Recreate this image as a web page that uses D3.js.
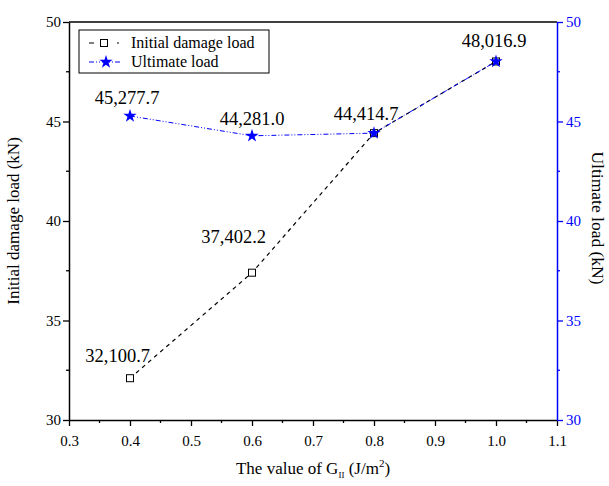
<!DOCTYPE html>
<html>
<head>
<meta charset="utf-8">
<script src="https://cdn.jsdelivr.net/npm/d3@7"></script>
<style>
  body { margin: 0; background: #fff; }
  svg text { font-family: 'Liberation Serif', 'Times New Roman', serif; }
</style>
</head>
<body>
<div id="chart"></div>
<script>
// values (kN)
const gValues = [0.4, 0.6, 0.8, 1.0];
const initialLoad = [32.1007, 37.4022, 44.4147, 48.0169];
const ultimateLoad = [45.2777, 44.2810, 44.4147, 48.0169];
const initialLabels = ["32,100.7", "37,402.2", "", ""];
const ultimateLabels = ["45,277.7", "44,281.0", "44,414.7", "48,016.9"];
const xTicks = [0.3, 0.4, 0.5, 0.6, 0.7, 0.8, 0.9, 1.0, 1.1];
const yTicks = [30, 35, 40, 45, 50];

const W = 609, H = 486;
const margin = { top: 22, right: 52, bottom: 66, left: 69 };
const width = W - margin.left - margin.right,
      height = H - margin.top - margin.bottom;

const svg = d3.select("#chart").append("svg")
    .attr("width", W)
    .attr("height", H);

const g = svg.append("g").attr("transform", `translate(${margin.left},${margin.top})`);

const x = d3.scaleLinear().domain([0.3, 1.1]).range([0, width]);
const yL = d3.scaleLinear().domain([30, 50]).range([height, 0]);
const yR = d3.scaleLinear().domain([30, 50]).range([height, 0]);

// top frame line
g.append("line")
    .attr("x1", 0).attr("x2", width)
    .attr("y1", 0).attr("y2", 0)
    .attr("stroke", "#000").attr("stroke-width", 1.5);

// minor ticks
const xMinor = [0.35, 0.45, 0.55, 0.65, 0.75, 0.85, 0.95, 1.05];
const yMinor = [32.5, 37.5, 42.5, 47.5];

g.selectAll(".xminor").data(xMinor).join("line")
    .attr("x1", d => x(d)).attr("x2", d => x(d))
    .attr("y1", height).attr("y2", height + 3)
    .attr("stroke", "#000").attr("stroke-width", 1.3);
g.selectAll(".ylminor").data(yMinor).join("line")
    .attr("x1", 0).attr("x2", -3)
    .attr("y1", d => yL(d)).attr("y2", d => yL(d))
    .attr("stroke", "#000").attr("stroke-width", 1.3);
g.selectAll(".yrminor").data(yMinor).join("line")
    .attr("x1", width).attr("x2", width + 3)
    .attr("y1", d => yR(d)).attr("y2", d => yR(d))
    .attr("stroke", "#0000ff").attr("stroke-width", 1.3);

// axes
const xAxis = g.append("g")
    .attr("transform", `translate(0,${height})`)
    .call(d3.axisBottom(x).tickValues(xTicks).tickFormat(d3.format(".1f")).tickSize(6).tickSizeOuter(0));
const leftAxis = g.append("g")
    .call(d3.axisLeft(yL).tickValues(yTicks).tickSize(6).tickSizeOuter(0));
const rightAxis = g.append("g")
    .attr("transform", `translate(${width},0)`)
    .call(d3.axisRight(yR).tickValues(yTicks).tickSize(6).tickSizeOuter(0));

[xAxis, leftAxis, rightAxis].forEach(a => {
    a.attr("font-family", "Liberation Serif").attr("font-size", 15);
});
[xAxis, leftAxis].forEach(a => {
    a.select(".domain").attr("stroke", "#000").attr("stroke-width", 1.5);
    a.selectAll(".tick line").attr("stroke", "#000").attr("stroke-width", 1.3);
    a.selectAll(".tick text").attr("fill", "#000");
});
xAxis.selectAll(".tick text").attr("dy", "1.1em");
leftAxis.selectAll(".tick text").attr("x", -8);

rightAxis.select(".domain").attr("stroke", "#0000ff").attr("stroke-width", 1.5);
rightAxis.selectAll(".tick line").attr("stroke", "#0000ff").attr("stroke-width", 1.3);
rightAxis.selectAll(".tick text").attr("fill", "#0000ff").attr("x", 9);

// lines
const lineInit = d3.line().x((d, i) => x(gValues[i])).y(d => yL(d));
const lineUlt = d3.line().x((d, i) => x(gValues[i])).y(d => yR(d));

g.append("path")
    .datum(initialLoad)
    .attr("fill", "none")
    .attr("stroke", "#000")
    .attr("stroke-width", 1.2)
    .attr("stroke-dasharray", "4,4")
    .attr("d", lineInit);

g.append("path")
    .datum(ultimateLoad)
    .attr("fill", "none")
    .attr("stroke", "#0000ff")
    .attr("stroke-width", 1)
    .attr("stroke-dasharray", "5,2,1,2,1,2")
    .attr("d", lineUlt);

// markers
const star = d3.symbol().type(d3.symbolStar).size(55);

g.selectAll(".sq").data(initialLoad).join("rect")
    .attr("x", (d, i) => x(gValues[i]) - 3.5)
    .attr("y", d => yL(d) - 3.5)
    .attr("width", 7).attr("height", 7)
    .attr("fill", "#fff").attr("stroke", "#000").attr("stroke-width", 1);

g.selectAll(".star").data(ultimateLoad).join("path")
    .attr("transform", (d, i) => `translate(${x(gValues[i])},${yR(d)})`)
    .attr("d", star)
    .attr("fill", "#0000ff");

// data labels
const iOff = [[20, -16], [14, -30]];
g.selectAll(".ilab").data(initialLoad.slice(0, 2)).join("text")
    .attr("x", (d, i) => x(gValues[i]) + iOff[i][0])
    .attr("y", (d, i) => yL(d) + iOff[i][1])
    .attr("text-anchor", "end")
    .style("font-size", "18.5px")
    .text((d, i) => initialLabels[i]);

const uOff = [[-3, -12], [0, -11], [-8, -13], [-2, -14]];
g.selectAll(".ulab").data(ultimateLoad).join("text")
    .attr("x", (d, i) => x(gValues[i]) + uOff[i][0])
    .attr("y", (d, i) => yR(d) + uOff[i][1])
    .attr("text-anchor", "middle")
    .style("font-size", "18.5px")
    .text((d, i) => ultimateLabels[i]);

// axis titles
svg.append("text")
    .attr("transform", `translate(${margin.left + width / 2},${H - 12})`)
    .attr("text-anchor", "middle")
    .style("font-size", "17px")
    .html('The value of G<tspan dy="4" font-size="9">II</tspan><tspan dy="-4"> (J/m</tspan><tspan dy="-7" font-size="11">2</tspan><tspan dy="7">)</tspan>');

svg.append("text")
    .attr("transform", `translate(19,${margin.top + height / 2}) rotate(-90)`)
    .attr("text-anchor", "middle")
    .style("font-size", "17px")
    .text("Initial damage load (kN)");

svg.append("text")
    .attr("transform", `translate(592,${margin.top + height / 2 - 3}) rotate(90)`)
    .attr("text-anchor", "middle")
    .style("font-size", "17.5px")
    .text("Ultimate load (kN)");

// legend
const lg = svg.append("g").attr("transform", "translate(79,30)");
lg.append("rect")
    .attr("width", 190).attr("height", 43)
    .attr("fill", "#fff").attr("stroke", "#000").attr("stroke-width", 1);

lg.append("line")
    .attr("x1", 10).attr("x2", 40).attr("y1", 13).attr("y2", 13)
    .attr("stroke", "#000").attr("stroke-width", 1.2).attr("stroke-dasharray", "5,9");
lg.append("rect")
    .attr("x", 21.5).attr("y", 9.5).attr("width", 7).attr("height", 7)
    .attr("fill", "#fff").attr("stroke", "#000");
lg.append("text").attr("x", 52).attr("y", 18).style("font-size", "16px").text("Initial damage load");

lg.append("line")
    .attr("x1", 10).attr("x2", 42).attr("y1", 32).attr("y2", 32)
    .attr("stroke", "#0000ff").attr("stroke-width", 1).attr("stroke-dasharray", "5,2,1,2,1,2");
lg.append("path")
    .attr("transform", "translate(27,32)")
    .attr("d", star)
    .attr("fill", "#0000ff");
lg.append("text").attr("x", 52).attr("y", 37).style("font-size", "16px").text("Ultimate load");
</script>
</body>
</html>
